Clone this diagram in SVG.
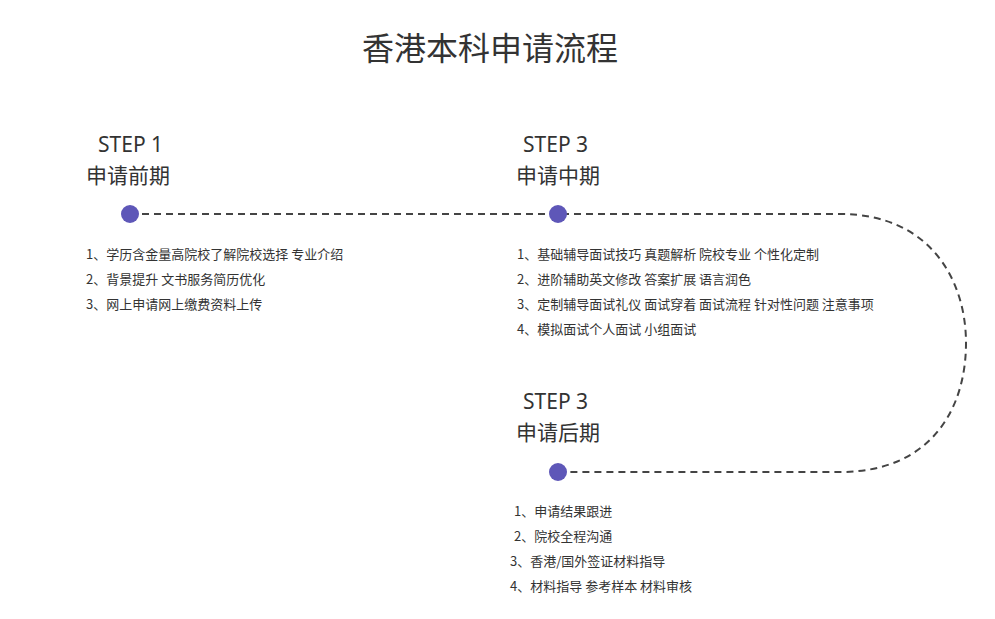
<svg xmlns="http://www.w3.org/2000/svg" width="995" height="619" viewBox="0 0 995 619">
<style>
text{font-family:"Noto Sans CJK SC","Noto Sans",sans-serif;fill:#333}
.step{font-family:"Noto Sans","Noto Sans CJK SC",sans-serif;font-size:21px}
.h{font-size:21px}
.li{font-size:13px}
.dot{fill:#5e57b8}
</style>
<rect width="995" height="619" fill="#fff"/>
<text x="490" y="60" font-size="32" text-anchor="middle">香港本科申请流程</text>
<g id="connectors">
<path d="M130 214 H840 C930 214 966 280 966 343 C966 410 930 472 840 472 H558" fill="none" stroke="#444" stroke-width="2" stroke-dasharray="7,5"/>
</g>
<g id="step1">
<text class="step" x="98" y="152">STEP 1</text>
<text class="h" x="86" y="183">申请前期</text>
<circle class="dot" cx="130" cy="214" r="9"/>
<text class="li" x="86" y="259">1、学历含金量高院校了解院校选择 专业介绍</text>
<text class="li" x="86" y="284">2、背景提升 文书服务简历优化</text>
<text class="li" x="86" y="309">3、网上申请网上缴费资料上传</text>
</g>
<g id="step2">
<text class="step" x="523" y="152">STEP 3</text>
<text class="h" x="516" y="183">申请中期</text>
<circle class="dot" cx="558" cy="214" r="9"/>
<text class="li" x="517" y="259">1、基础辅导面试技巧 真题解析 院校专业 个性化定制</text>
<text class="li" x="517" y="284">2、进阶辅助英文修改 答案扩展 语言润色</text>
<text class="li" x="517" y="309">3、定制辅导面试礼仪 面试穿着 面试流程 针对性问题 注意事项</text>
<text class="li" x="517" y="334">4、模拟面试个人面试 小组面试</text>
</g>
<g id="step3">
<text class="step" x="523" y="409">STEP 3</text>
<text class="h" x="516" y="440">申请后期</text>
<circle class="dot" cx="558" cy="472" r="9"/>
<text class="li" x="514" y="516">1、申请结果跟进</text>
<text class="li" x="514" y="541">2、院校全程沟通</text>
<text class="li" x="510" y="566">3、香港/国外签证材料指导</text>
<text class="li" x="510" y="591">4、材料指导 参考样本 材料审核</text>
</g>
</svg>
